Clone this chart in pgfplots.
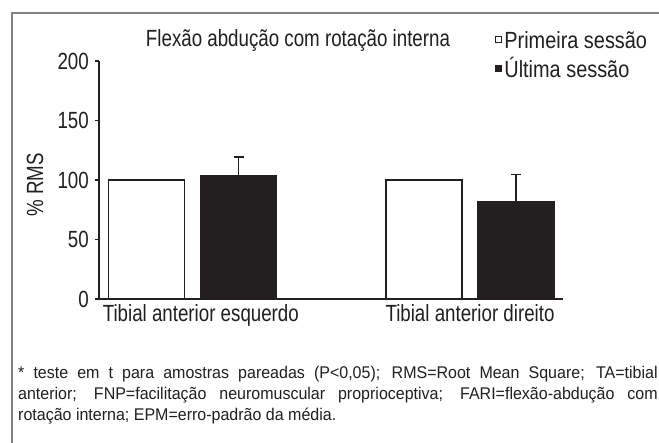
\documentclass[border=0pt]{standalone}
\usepackage{fontspec}
\setmainfont{Liberation Sans}[FakeStretch=0.80]
\newfontfamily\legfont{Liberation Sans}[FakeStretch=0.85]
\newfontfamily\capfont{Liberation Sans}[FakeStretch=0.945]
\usepackage{pgfplots}
\pgfplotsset{compat=1.18}
\definecolor{dk}{HTML}{231F20}
\definecolor{fr}{HTML}{808080}
\newcommand{\bigf}{\fontsize{23.5}{27}\selectfont}
\begin{document}
\begin{tikzpicture}
\useasboundingbox (0,0) rectangle (659bp,-443bp);
\fill[white] (0,0) rectangle (659bp,-443bp);
\draw[fr, line width=2bp] (12.2bp,-443bp) -- (12.2bp,-12.5bp) -- (659bp,-12.5bp);
\begin{axis}[
  at={(99bp,-299bp)}, anchor=south west,
  scale only axis, width=464bp, height=238bp,
  xmin=-0.3369, xmax=1.3351, ymin=0, ymax=200,
  axis x line*=bottom, axis y line*=left,
  axis line style={-, line width=1.3bp, color=dk},
  ytick={0,50,100,150,200},
  xtick={0.03,1},
  xticklabels={Tibial anterior esquerdo, Tibial anterior direito},
  tick align=outside,
  major tick length=4bp,
  x tick style={draw=none},
  y tick style={line width=1.3bp, color=dk},
  /pgf/number format/assume math mode=true,
  yticklabel style={font=\bigf, text=dk, inner sep=6bp},
  xticklabel style={font=\bigf, text=dk, inner sep=0pt, text height=17bp, text depth=5bp, yshift=-1.7bp},
  legend style={draw=none, fill=none, inner sep=0pt, outer sep=0pt,
    at={(rel axis cs:0.8526,1.1239)}, anchor=north west,
    font=\legfont\bigf, text=dk, row sep=7bp,
    nodes={inner sep=0pt, text height=17bp, text depth=5bp},
    /tikz/every odd column/.append style={column sep=3bp}},
  legend cell align=left,
  legend image code/.code={\draw[#1, line width=0.8bp] (0bp,0.5bp) rectangle (6bp,6.5bp);},
]
\addplot[ybar, bar width=76bp, bar shift=0bp, fill=white, draw=dk, line width=1.3bp]
  coordinates {(-0.1658,100) (0.8342,100)};
\addlegendentry{Primeira sessão}
\addplot[ybar, bar width=76bp, bar shift=0bp, fill=dk, draw=dk, line width=1.3bp,
  error bars/.cd, y dir=plus, y explicit,
  error bar style={line width=1.3bp, color=dk},
  error mark options={rotate=90, mark size=5bp, line width=1.3bp, color=dk}]
  coordinates {(0.1658,104) +- (0,15.4) (1.1658,82.1) +- (0,22.3)};
\addlegendentry{Última sessão}
\end{axis}
\node[anchor=base, font=\bigf, text=dk, inner sep=0pt] at (298bp,-46.5bp) {Flexão abdução com rotação interna};
\node[rotate=90, font=\bigf, text=dk, inner sep=0pt] at (35bp,-185bp) {\% RMS};
\node[anchor=base west, inner sep=0pt, font=\capfont\fontsize{17}{21}\selectfont, text=dk] at (18bp,-378.5bp)
  {\makebox[639.5bp][s]{* teste em t para amostras pareadas (P<0,05); RMS=Root Mean Square; TA=tibial}};
\node[anchor=base west, inner sep=0pt, font=\capfont\fontsize{17}{21}\selectfont, text=dk] at (18bp,-399.5bp)
  {\makebox[639.5bp][s]{anterior; FNP=facilitação neuromuscular proprioceptiva; FARI=flexão-abdução com}};
\node[anchor=base west, inner sep=0pt, font=\capfont\fontsize{17}{21}\selectfont, text=dk] at (18bp,-420.5bp)
  {rotação interna; EPM=erro-padrão da média.};
\end{tikzpicture}
\end{document}
